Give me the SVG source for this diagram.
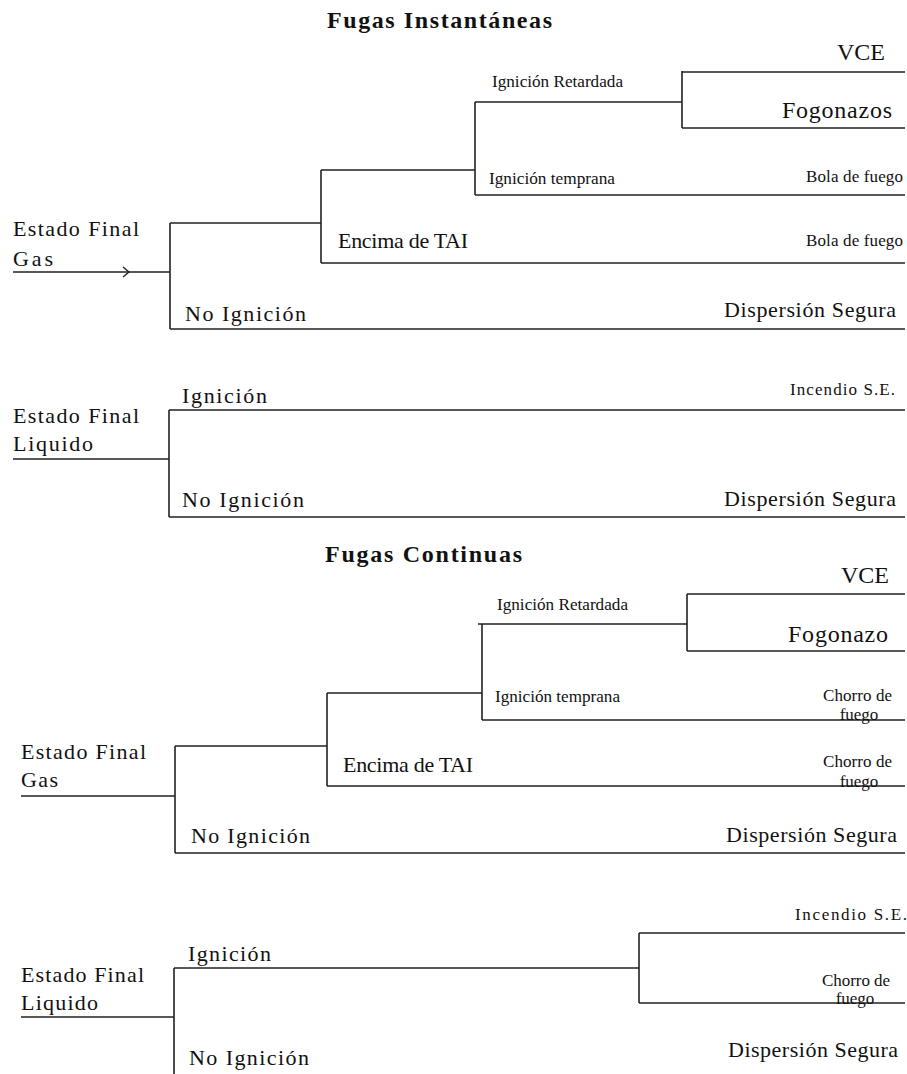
<svg xmlns="http://www.w3.org/2000/svg" width="907" height="1074" viewBox="0 0 907 1074" font-family="'Liberation Serif', 'DejaVu Serif', serif">
<style>
text{font-family:'Liberation Serif','DejaVu Serif',serif;fill:#111;}
.t{font-size:24px;font-weight:bold;}
.l{font-size:22px;}
.m{font-size:24px;}
.s{font-size:17px;}
.x{font-size:17px;}
.c path{fill:none;stroke:#222;stroke-width:1.6;}
</style>
<rect width="907" height="1074" fill="#fff"/>
<g class="c" id="connectors">
<path d="M13,272H170M170,223V329M170,223H321M170,329H905M321,170V263M321,170H475M321,263H905M475,102V195M475,102H682M475,195H905M682,71V128M682,72H905M682,128H905"/>
<path d="M123,267L129,272L123,277" style="stroke-width:1.4"/>
<path d="M13,459H169M169,410V517M169,410H905M169,517H905"/>
<path d="M21,796H175M175,746V853M175,746H327M175,853H905M327,693V786M327,693H482M327,786H905M482,624V720M478,624H687M482,720H905M687,594V651M687,594H905M687,651H905"/>
<path d="M21,1017H174M174,968V1074M174,968H639M639,933V1003M639,933H905M639,1003H905"/>
</g>
<g id="title1"><text class="t" x="327" y="28" textLength="225" lengthAdjust="spacing">Fugas Instantáneas</text></g>
<g id="gas1">
<text class="l" x="13" y="236" textLength="126" lengthAdjust="spacing">Estado Final</text>
<text class="l" x="13" y="266" textLength="40" lengthAdjust="spacing">Gas</text>
</g>
<g id="noign1"><text class="l" x="185" y="321" textLength="121" lengthAdjust="spacing">No Ignición</text></g>
<g id="tai1"><text class="l" x="338" y="248" textLength="130" lengthAdjust="spacing">Encima de TAI</text></g>
<g id="temp1"><text class="s" x="489" y="184" textLength="126" lengthAdjust="spacingAndGlyphs">Ignición temprana</text></g>
<g id="ret1"><text class="s" x="492" y="87" textLength="131" lengthAdjust="spacingAndGlyphs">Ignición Retardada</text></g>
<g id="vce1"><text class="m" x="837" y="60" textLength="48" lengthAdjust="spacing">VCE</text></g>
<g id="fog1"><text class="m" x="782" y="118" textLength="110" lengthAdjust="spacing">Fogonazos</text></g>
<g id="bola1"><text class="x" x="806" y="182" textLength="97" lengthAdjust="spacing">Bola de fuego</text></g>
<g id="bola2"><text class="x" x="806" y="246" textLength="97" lengthAdjust="spacing">Bola de fuego</text></g>
<g id="disp1"><text class="l" x="724" y="317" textLength="172" lengthAdjust="spacing">Dispersión Segura</text></g>

<g id="liq1">
<text class="l" x="13" y="423" textLength="126" lengthAdjust="spacing">Estado Final</text>
<text class="l" x="13" y="451" textLength="80" lengthAdjust="spacing">Liquido</text>
</g>
<g id="ign2"><text class="l" x="182" y="403" textLength="85" lengthAdjust="spacing">Ignición</text></g>
<g id="noign2"><text class="l" x="182" y="507" textLength="122" lengthAdjust="spacing">No Ignición</text></g>
<g id="inc1"><text class="x" x="790" y="395" textLength="105" lengthAdjust="spacing">Incendio S.E.</text></g>
<g id="disp2"><text class="l" x="724" y="506" textLength="172" lengthAdjust="spacing">Dispersión Segura</text></g>

<g id="title2"><text class="t" x="325" y="562" textLength="197" lengthAdjust="spacing">Fugas Continuas</text></g>
<g id="gas2">
<text class="l" x="21" y="759" textLength="125" lengthAdjust="spacing">Estado Final</text>
<text class="l" x="21" y="787" textLength="37" lengthAdjust="spacing">Gas</text>
</g>
<g id="noign3"><text class="l" x="191" y="843" textLength="119" lengthAdjust="spacing">No Ignición</text></g>
<g id="tai2"><text class="l" x="343" y="772" textLength="130" lengthAdjust="spacing">Encima de TAI</text></g>
<g id="temp2"><text class="s" x="495" y="702" textLength="125" lengthAdjust="spacingAndGlyphs">Ignición temprana</text></g>
<g id="ret2"><text class="s" x="497" y="610" textLength="131" lengthAdjust="spacingAndGlyphs">Ignición Retardada</text></g>
<g id="vce2"><text class="m" x="841" y="583" textLength="48" lengthAdjust="spacing">VCE</text></g>
<g id="fog2"><text class="m" x="788" y="642" textLength="100" lengthAdjust="spacing">Fogonazo</text></g>
<g id="cho1">
<text class="x" x="823" y="701" textLength="69" lengthAdjust="spacing">Chorro de</text>
<text class="x" x="859" y="720" text-anchor="middle">fuego</text>
</g>
<g id="cho2">
<text class="x" x="823" y="767" textLength="69" lengthAdjust="spacing">Chorro de</text>
<text class="x" x="859" y="787" text-anchor="middle">fuego</text>
</g>
<g id="disp3"><text class="l" x="726" y="842" textLength="171" lengthAdjust="spacing">Dispersión Segura</text></g>

<g id="liq2">
<text class="l" x="21" y="982" textLength="123" lengthAdjust="spacing">Estado Final</text>
<text class="l" x="21" y="1010" textLength="77" lengthAdjust="spacing">Liquido</text>
</g>
<g id="ign4"><text class="l" x="188" y="961" textLength="83" lengthAdjust="spacing">Ignición</text></g>
<g id="noign4"><text class="l" x="189" y="1065" textLength="120" lengthAdjust="spacing">No Ignición</text></g>
<g id="inc2"><text class="x" x="795" y="920" textLength="112" lengthAdjust="spacing">Incendio S.E.</text></g>
<g id="cho3">
<text class="x" x="822" y="986" textLength="68" lengthAdjust="spacing">Chorro de</text>
<text class="x" x="855" y="1004" text-anchor="middle">fuego</text>
</g>
<g id="disp4"><text class="l" x="728" y="1057" textLength="170" lengthAdjust="spacing">Dispersión Segura</text></g>
</svg>
